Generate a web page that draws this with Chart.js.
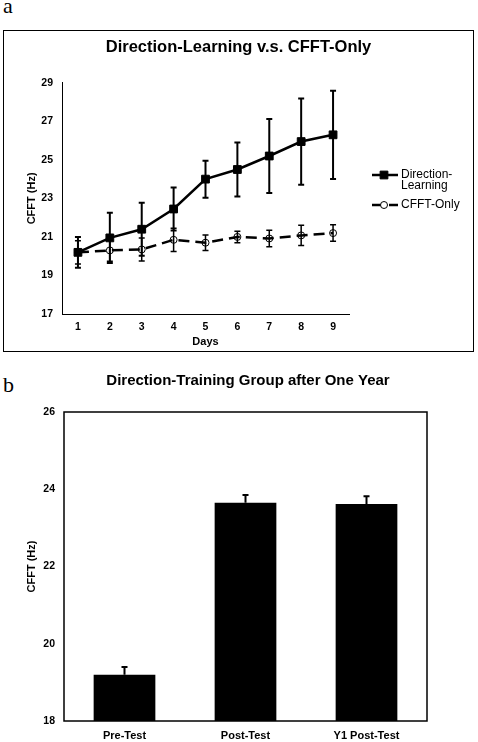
<!DOCTYPE html>
<html>
<head>
<meta charset="utf-8">
<script src="https://cdn.jsdelivr.net/npm/chart.js@4.4.0/dist/chart.umd.min.js"></script>
<style>
body { margin:0; background:#fff; width:478px; height:742px; position:relative; overflow:hidden; }
.lbl { position:absolute; font-family:"Liberation Serif","DejaVu Serif",serif; font-size:22px; line-height:1; color:#000; }
#wrapA { position:absolute; left:3px; top:30px; width:469px; height:320px; border:1px solid #000; }
#chartA { display:block; }
#chartB { position:absolute; left:18px; top:362px; }
</style>
</head>
<body>
<div class="lbl" style="left:3px;top:-5px">a</div>
<div class="lbl" style="left:3px;top:374px">b</div>
<div id="wrapA"><canvas id="chartA" width="469" height="320"></canvas></div>
<canvas id="chartB" width="460" height="380"></canvas>
<script>
// panel a data
var days = ['1', '2', '3', '4', '5', '6', '7', '8', '9'];
var directionLearning = [20.2, 20.95, 21.4, 22.45, 24.0, 24.5, 25.2, 25.95, 26.3];
var directionLearningErr = [0.8, 1.3, 1.38, 1.12, 0.96, 1.4, 1.92, 2.24, 2.29];
var cfftOnly = [20.2, 20.3, 20.35, 20.85, 20.7, 21.0, 20.92, 21.08, 21.2];
var cfftOnlyErr = [0.6, 0.56, 0.6, 0.6, 0.4, 0.3, 0.43, 0.52, 0.43];
var yTicksA = [17, 19, 21, 23, 25, 27, 29];

// panel b data
var tests = ['Pre-Test', 'Post-Test', 'Y1 Post-Test'];
var testMeans = [19.2, 23.65, 23.62];
var testErr = [0.2, 0.2, 0.2];
var yTicksB = [18, 20, 22, 24, 26];

var FONT = 'Liberation Sans, Arial, Helvetica, sans-serif';
Chart.defaults.color = '#000';
Chart.defaults.font.family = FONT;

var errorBars = {
	id: 'errorBars',
	afterDatasetsDraw: function(chart){
		var ctx = chart.ctx;
		var y = chart.scales.y;
		chart.data.datasets.forEach(function(ds, i){
			if(!ds.errors) return;
			var meta = chart.getDatasetMeta(i);
			ctx.save();
			ctx.strokeStyle = '#000';
			ctx.lineWidth = ds.errorWidth || 1.5;
			meta.data.forEach(function(el, j){
				var v = ds.data[j], e = ds.errors[j];
				var top = y.getPixelForValue(v + e);
				var bot = ds.errorUpOnly ? el.y : y.getPixelForValue(v - e);
				var cw = ds.capWidth || 3;
				ctx.beginPath();
				ctx.moveTo(el.x, top); ctx.lineTo(el.x, bot);
				ctx.moveTo(el.x - cw, top); ctx.lineTo(el.x + cw, top);
				if(!ds.errorUpOnly){
					ctx.moveTo(el.x - cw, bot); ctx.lineTo(el.x + cw, bot);
				}
				ctx.stroke();
			});
			ctx.restore();
		});
	}
};

// legend to the right of panel a, label split over lines like the original
var sideLegend = {
	id: 'sideLegend',
	afterDraw: function(chart){
		var ctx = chart.ctx;
		var x0 = 368, x1 = 394, tx = 397;
		var rows = [144, 174];
		ctx.save();
		ctx.font = '12px ' + FONT;
		ctx.textBaseline = 'middle';
		chart.data.datasets.forEach(function(ds, i){
			var yy = rows[i];
			var mx = (x0 + x1) / 2 - 1;
			ctx.strokeStyle = '#000';
			ctx.lineWidth = ds.borderWidth;
			ctx.setLineDash(ds.borderDash || []);
			ctx.lineDashOffset = ds.borderDash ? 0 : 0;
			ctx.beginPath();
			ctx.moveTo(x0, yy); ctx.lineTo(x1, yy);
			ctx.stroke();
			ctx.setLineDash([]);
			ctx.fillStyle = ds.pointBackgroundColor === 'rgba(0,0,0,0)' ? '#fff' : ds.pointBackgroundColor;
			ctx.lineWidth = ds.pointBorderWidth;
			ctx.beginPath();
			if(ds.pointStyle === 'rect'){
				var s = ds.pointRadius * Math.SQRT1_2;
				ctx.rect(mx - s, yy - s, 2 * s, 2 * s);
			} else {
				ctx.arc(mx, yy, ds.pointRadius, 0, Math.PI * 2);
			}
			ctx.fill(); ctx.stroke();
			ctx.fillStyle = '#000';
			var lines = ds.legendLines;
			for(var k = 0; k < lines.length; k++){
				ctx.fillText(lines[k], tx, yy + k * 11);
			}
		});
		ctx.restore();
	}
};

var boxFrame = {
	id: 'boxFrame',
	afterDraw: function(chart){
		var a = chart.chartArea, ctx = chart.ctx;
		ctx.save();
		ctx.strokeStyle = '#000';
		ctx.lineWidth = 1.5;
		ctx.strokeRect(a.left, a.top, a.right - a.left, a.bottom - a.top);
		ctx.restore();
	}
};

// empty right axis, only used to reserve room so the title stays centred on the canvas
function spacer(w){
	return {
		position: 'right',
		display: true,
		grid: { display: false, drawTicks: false },
		border: { display: false },
		ticks: { display: false },
		afterFit: function(s){ s.width = w; }
	};
}

var chartA = new Chart(document.getElementById('chartA'), {
	type: 'line',
	data: {
		labels: days,
		datasets: [
		{
			label: 'Direction-Learning',
			legendLines: ['Direction-', 'Learning'],
			data: directionLearning,
			errors: directionLearningErr,
			errorWidth: 2,
			capWidth: 3,
			borderColor: '#000',
			borderWidth: 2.5,
			pointStyle: 'rect',
			pointRadius: 5.5,
			pointBorderWidth: 1,
			pointBackgroundColor: '#000',
			pointBorderColor: '#000',
			tension: 0,
			fill: false
		},
		{
			label: 'CFFT-Only',
			legendLines: ['CFFT-Only'],
			data: cfftOnly,
			errors: cfftOnlyErr,
			errorWidth: 1.5,
			capWidth: 3,
			borderColor: '#000',
			borderWidth: 2.5,
			borderDash: [11, 6],
			pointStyle: 'circle',
			pointRadius: 3.5,
			pointBorderWidth: 1,
			pointBackgroundColor: 'rgba(0,0,0,0)',
			pointBorderColor: '#000',
			tension: 0,
			fill: false
		}
		]
	},
	options: {
		responsive: false,
		animation: false,
		layout: { padding: 0 },
		plugins: {
			legend: { display: false },
			tooltip: { enabled: false },
			title: {
				display: true,
				text: 'Direction-Learning v.s. CFFT-Only',
				font: { size: 16.5, weight: 'bold' },
				padding: { top: 7, bottom: 25 }
			}
		},
		scales: {
			x: {
				offset: true,
				grid: { display: false, drawTicks: false },
				border: { display: true, color: '#000', width: 1 },
				ticks: { font: { size: 10.5, weight: 'bold' }, padding: 7, maxRotation: 0 },
				title: { display: true, text: 'Days', font: { size: 11, weight: 'bold' }, padding: { top: 0, bottom: 2 } },
				afterFit: function(s){ s.height = 37; }
			},
			y: {
				min: 17, max: 29,
				grid: { display: false, drawTicks: false },
				border: { display: true, color: '#000', width: 1 },
				ticks: { font: { size: 10.5, weight: 'bold' }, padding: 9 },
				afterBuildTicks: function(s){ s.ticks = yTicksA.map(function(v){ return { value: v }; }); },
				title: { display: true, text: 'CFFT (Hz)', font: { size: 11, weight: 'bold' }, padding: { top: 21, bottom: 0 } },
				afterFit: function(s){ s.width = 58; }
			},
			pad: spacer(124)
		}
	},
	plugins: [errorBars, sideLegend]
});

var chartB = new Chart(document.getElementById('chartB'), {
	type: 'bar',
	data: {
		labels: tests,
		datasets: [
		{
			label: 'CFFT',
			data: testMeans,
			errors: testErr,
			errorUpOnly: true,
			errorWidth: 2,
			capWidth: 3,
			backgroundColor: '#000',
			borderWidth: 0,
			barPercentage: 0.51,
			categoryPercentage: 1
		}
		]
	},
	options: {
		responsive: false,
		animation: false,
		layout: { padding: 0 },
		plugins: {
			legend: { display: false },
			tooltip: { enabled: false },
			title: {
				display: true,
				text: 'Direction-Training Group after One Year',
				font: { size: 15, weight: 'bold' },
				padding: { top: 10, bottom: 22 }
			}
		},
		scales: {
			x: {
				grid: { display: false, drawTicks: false },
				border: { display: false },
				ticks: { font: { size: 11, weight: 'bold' }, padding: 8, maxRotation: 0 },
				afterFit: function(s){ s.height = 21; }
			},
			y: {
				min: 18, max: 26,
				grid: { display: false, drawTicks: false },
				border: { display: false },
				ticks: { font: { size: 10.5, weight: 'bold' }, padding: 9 },
				afterBuildTicks: function(s){ s.ticks = yTicksB.map(function(v){ return { value: v }; }); },
				title: { display: true, text: 'CFFT (Hz)', font: { size: 11, weight: 'bold' }, padding: { top: 7, bottom: 0 } },
				afterFit: function(s){ s.width = 46; }
			},
			pad: spacer(51)
		}
	},
	plugins: [errorBars, boxFrame]
});
</script>
</body>
</html>
